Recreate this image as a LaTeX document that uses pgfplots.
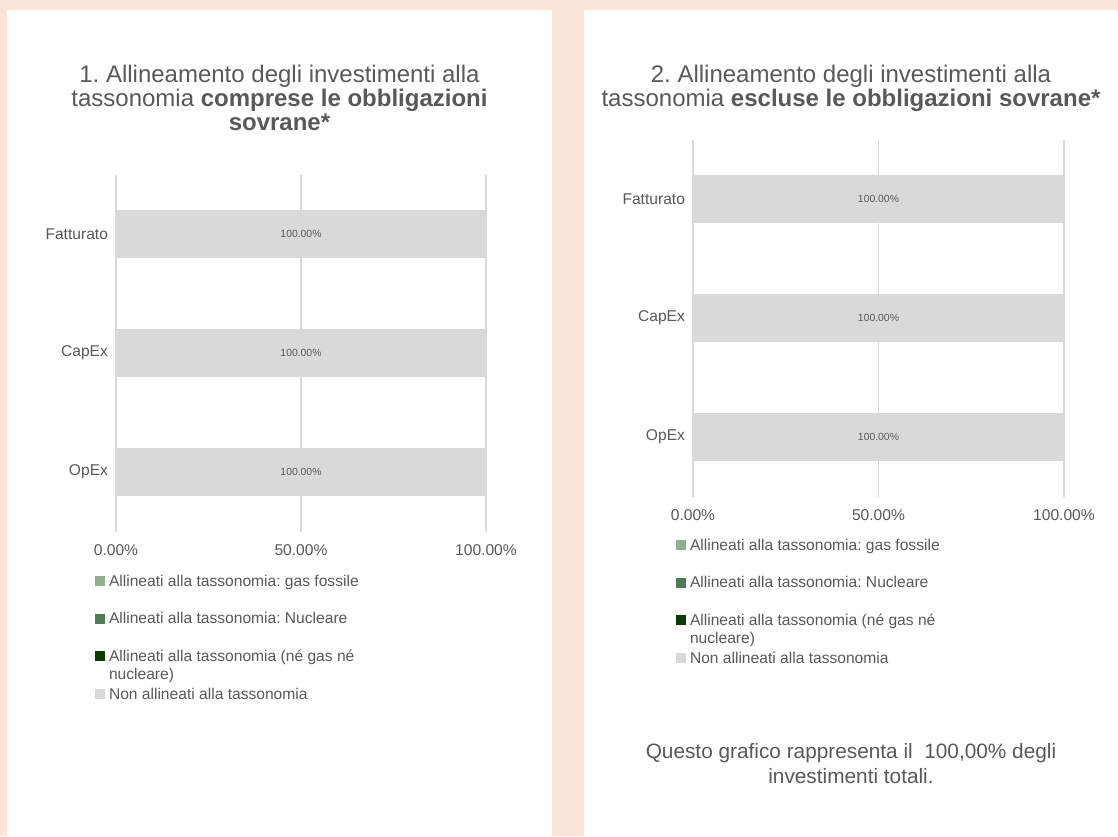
\documentclass[border=0pt]{standalone}
\usepackage{pgfplots}
\pgfplotsset{compat=1.18}
\usepackage{fontspec}
\setmainfont{Liberation Sans}
\frenchspacing
\definecolor{bg}{HTML}{FBE5D6}
\definecolor{txt}{HTML}{595959}
\definecolor{barg}{HTML}{D9D9D9}
\definecolor{gridg}{HTML}{D9D9D9}
\definecolor{gfos}{HTML}{8FAF8F}
\definecolor{gnuc}{HTML}{507A5A}
\definecolor{gnone}{HTML}{0B3A0B}
\newcommand{\lf}{\fontsize{11.7pt}{13.5pt}\selectfont}
\newcommand{\tf}{\fontsize{18pt}{18pt}\selectfont}
\newcommand{\nf}{\fontsize{15.6pt}{18pt}\selectfont}
\newcommand{\ent}[1]{\raisebox{0pt}[9pt][3pt]{#1}}
\pgfplotsset{
  sq/.style={legend image code/.code={\fill[##1] (0pt,0pt) rectangle (7.5pt,7.5pt);}},
  chart/.style={
    xbar stacked, scale only axis, width=277.5pt, height=267.75pt,
    xmin=0, xmax=100, ymin=-0.5, ymax=2.5,
    enlarge x limits=false, enlarge y limits=false,
    bar width=0.4,
    xtick={0,50,100}, xticklabels={0.00\%,50.00\%,100.00\%},
    ytick={0,1,2}, yticklabels={OpEx,CapEx,Fatturato},
    axis line style={draw=none}, major tick length=0pt,
    xmajorgrids, grid style={gridg, line width=1pt},
    tick label style={font=\lf, text=txt},
    xticklabel style={yshift=-6.2pt},
    yticklabel style={xshift=-2.5pt},
    /pgf/number format/assume math mode=true,
    legend cell align=left,
    legend style={draw=none, fill=none, inner sep=0pt, outer sep=0pt, font=\lf, text=txt,
      /tikz/row sep=17.8pt, /tikz/column sep=3pt, anchor=north west,
      nodes={inner sep=0pt, outer sep=0pt, anchor=base west}},
  }
}
\begin{document}
\begin{tikzpicture}
\path[use as bounding box, fill=bg] (0pt,0pt) rectangle (838.5pt,-627pt);
\fill[white] (5.25pt,-7.5pt) rectangle (414pt,-627pt);
\fill[white] (438pt,-7.5pt) rectangle (838.5pt,-627pt);
% titles
\begin{scope}[every node/.style={anchor=base, text=txt, font=\tf, inner sep=0pt}]
\node at (209.6pt,-61.5pt) {1. Allineamento degli investimenti alla};
\node at (209.6pt,-79.5pt) {tassonomia \textbf{comprese le obbligazioni}};
\node at (209.6pt,-97.5pt) {\textbf{sovrane*}};
\node at (638.25pt,-61.5pt) {2. Allineamento degli investimenti alla};
\node at (638.25pt,-79.5pt) {tassonomia \textbf{escluse le obbligazioni sovrane*}};
\end{scope}
\begin{scope}[every node/.style={anchor=base, text=txt, font=\nf, inner sep=0pt}]
\node at (638.25pt,-568.5pt) {Questo grafico rappresenta il \ 100,00\% degli};
\node at (638.25pt,-587.25pt) {investimenti totali.};
\end{scope}
% left chart
\begin{axis}[chart, at={(87pt,-398.625pt)}, anchor=south west,
  legend style={at={(axis description cs:0,0)}, xshift=-15.75pt, yshift=-31.875pt}]
\addplot[fill=gfos, draw=none, sq] coordinates {(0,0) (0,1) (0,2)};
\addlegendentry{\ent{Allineati alla tassonomia: gas fossile}}
\addplot[fill=gnuc, draw=none, sq] coordinates {(0,0) (0,1) (0,2)};
\addlegendentry{\ent{Allineati alla tassonomia: Nucleare}}
\addplot[fill=gnone, draw=none, sq] coordinates {(0,0) (0,1) (0,2)};
\addlegendentry{\raisebox{0pt}[9pt][6.8pt]{\vtop{\baselineskip=13.5pt\hbox{Allineati alla tassonomia (né gas né}\hbox{nucleare)}}}}
\addplot[fill=barg, draw=none, sq,
  nodes near coords={\pgfmathprintnumber[fixed,fixed zerofill,precision=2]{\pgfplotspointmeta}\%},
  every node near coord/.append style={anchor=center, font=\fontsize{7.8pt}{9pt}\selectfont, text=txt}]
  coordinates {(100,0) (100,1) (100,2)};
\addlegendentry{\ent{Non allineati alla tassonomia}}
\end{axis}
% right chart
\begin{axis}[chart, width=278.25pt, at={(519.75pt,-372.375pt)}, anchor=south west,
  legend style={at={(axis description cs:0,0)}, xshift=-12.75pt, yshift=-31.125pt}]
\addplot[fill=gfos, draw=none, sq] coordinates {(0,0) (0,1) (0,2)};
\addlegendentry{\ent{Allineati alla tassonomia: gas fossile}}
\addplot[fill=gnuc, draw=none, sq] coordinates {(0,0) (0,1) (0,2)};
\addlegendentry{\ent{Allineati alla tassonomia: Nucleare}}
\addplot[fill=gnone, draw=none, sq] coordinates {(0,0) (0,1) (0,2)};
\addlegendentry{\raisebox{0pt}[9pt][6.5pt]{\vtop{\baselineskip=13.5pt\hbox{Allineati alla tassonomia (né gas né}\hbox{nucleare)}}}}
\addplot[fill=barg, draw=none, sq,
  nodes near coords={\pgfmathprintnumber[fixed,fixed zerofill,precision=2]{\pgfplotspointmeta}\%},
  every node near coord/.append style={anchor=center, font=\fontsize{7.8pt}{9pt}\selectfont, text=txt}]
  coordinates {(100,0) (100,1) (100,2)};
\addlegendentry{\ent{Non allineati alla tassonomia}}
\end{axis}
\end{tikzpicture}
\end{document}
